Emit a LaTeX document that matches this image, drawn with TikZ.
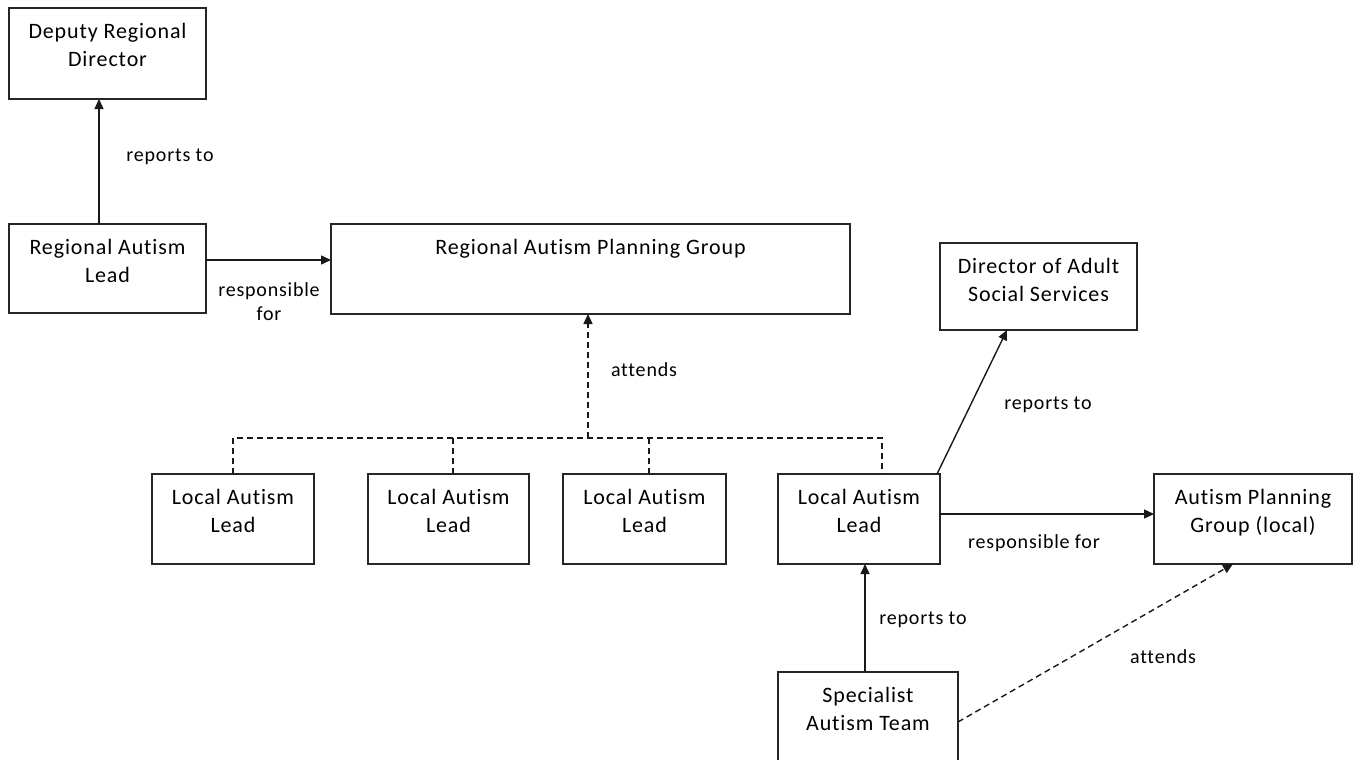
\documentclass[tikz,border=0pt]{standalone}
\usepackage{fontspec}
\setmainfont{Carlito}[LetterSpace=4.0, Ligatures={NoCommon}]
\usetikzlibrary{arrows.meta}
\tikzset{
  box/.style={draw=black!85, line width=1.3pt, rectangle, inner sep=0pt, outer sep=0pt, anchor=north west},
  boxtxt/.style={anchor=north, align=center, inner sep=0pt, yshift=-15pt, font=\fontsize{22}{28.5}\selectfont},
  lbl/.style={inner sep=0pt, align=center, font=\fontsize{20}{24}\selectfont},
  conn/.style={line width=1.4pt, draw=black!90},
  arr/.style={conn, -{Triangle[length=10pt,width=9pt]}},
  dsh/.style={conn, dash pattern=on 6pt off 4pt}
}
\begin{document}
\begin{tikzpicture}[x=1pt,y=-1pt]
\useasboundingbox (0,0) rectangle (1355,760);
\fill[white] (0,0) rectangle (1355,760);
% boxes
\node[box, minimum width=197pt, minimum height=91pt, label={[boxtxt]north:{Deputy Regional\\Director}}] (drd) at (9,8) {};
\node[box, minimum width=197pt, minimum height=89pt, label={[boxtxt]north:{Regional Autism\\Lead}}] (ral) at (9,224) {};
\node[box, minimum width=519pt, minimum height=90pt, label={[boxtxt]north:{Regional Autism Planning Group}}] (rapg) at (331,224) {};
\node[box, minimum width=197pt, minimum height=87pt, label={[boxtxt]north:{Director of Adult\\Social Services}}] (dass) at (940,243) {};
\node[box, minimum width=162pt, minimum height=90pt, label={[boxtxt]north:{Local Autism\\Lead}}] (lal1) at (152,474) {};
\node[box, minimum width=161pt, minimum height=90pt, label={[boxtxt]north:{Local Autism\\Lead}}] (lal2) at (368,474) {};
\node[box, minimum width=163pt, minimum height=90pt, label={[boxtxt]north:{Local Autism\\Lead}}] (lal3) at (563,474) {};
\node[box, minimum width=162pt, minimum height=90pt, label={[boxtxt]north:{Local Autism\\Lead}}] (lal4) at (778,474) {};
\node[box, minimum width=198pt, minimum height=90pt, label={[boxtxt]north:{Autism Planning\\Group (local)}}] (apg) at (1154,474) {};
\node[box, minimum width=180pt, minimum height=90pt, label={[boxtxt]north:{Specialist\\Autism Team}}] (sat) at (778,672) {};
% connectors
\draw[arr] ([xshift=-8.5pt]ral.north) -- ([xshift=-8.5pt]drd.south);
\draw[arr] ([yshift=8.5pt]ral.east) -- ([yshift=8.5pt]ral.east -| rapg.west);
\coordinate (bus) at (588,438);
\draw[dsh] (lal1.north) -- (lal1.north |- bus) -- ([xshift=23pt]lal4.north |- bus) -- ([xshift=23pt]lal4.north);
\draw[dsh] ([xshift=4.5pt]lal2.north) -- ([xshift=4.5pt]lal2.north |- bus);
\draw[dsh] ([xshift=4.5pt]lal3.north) -- ([xshift=4.5pt]lal3.north |- bus);
\draw[dsh, -{Triangle[length=10pt,width=9pt]}] (bus) -- (bus |- rapg.south);
\draw[arr] ([xshift=-3pt]lal4.north east) -- ([xshift=-31.5pt]dass.south);
\draw[arr] ([yshift=5pt]lal4.east) -- ([yshift=5pt]lal4.east -| apg.west);
\draw[arr] ([xshift=6pt]lal4.south |- sat.north) -- ([xshift=6pt]lal4.south);
\draw[dsh, -{Triangle[length=10pt,width=9pt]}] ([yshift=-5pt]sat.east) -- ([xshift=-20pt]apg.south);
% labels
\node[lbl] (l1) at (170,157) {reports to};
\node[lbl] (l2) at (269,302) {responsible\\for};
\node[lbl] (l3) at (644,370) {attends};
\node[lbl] (l4) at (1048,405) {reports to};
\node[lbl] (l5) at (1034,543) {responsible for};
\node[lbl] (l6) at (923,620) {reports to};
\node[lbl] (l7) at (1163,657) {attends};
\end{tikzpicture}
\end{document}
